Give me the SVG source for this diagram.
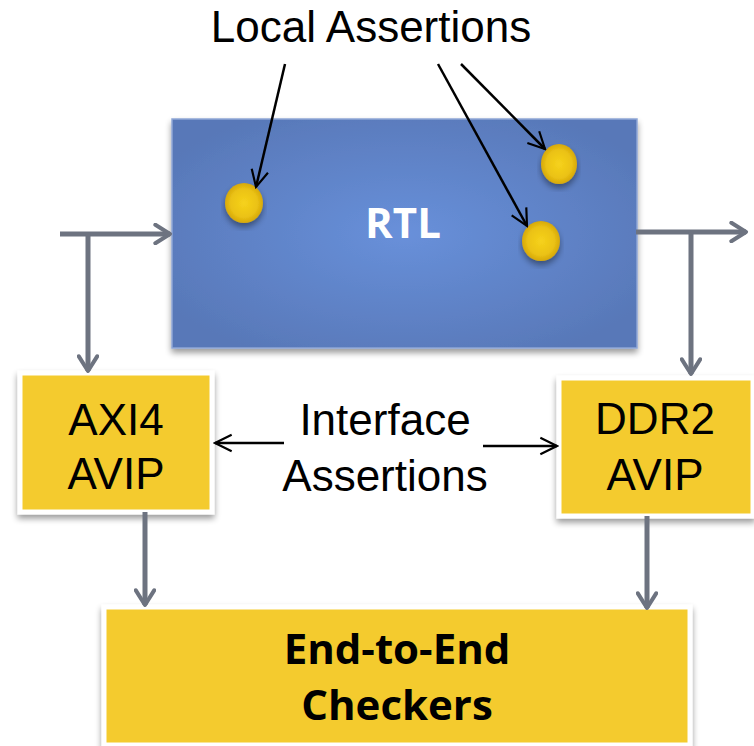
<svg xmlns="http://www.w3.org/2000/svg" width="754" height="746" viewBox="0 0 754 746">
<style>
.yb{fill:#f4cb2d;stroke:#ffffff;stroke-width:5}
.t{font-family:"Liberation Sans",Arial,sans-serif;font-size:44px;fill:#000;text-anchor:middle}
.tb{font-family:"Open Sans","Liberation Sans",sans-serif;font-weight:bold;text-anchor:middle}
.g{stroke:#6d7380;stroke-width:5;fill:none;stroke-linecap:butt}
.k{stroke:#000;stroke-width:2.5;fill:none}
</style>
<defs>
<marker id="ga" viewBox="0 0 12 12" refX="10" refY="6" markerWidth="4.4" markerHeight="4.4" orient="auto" markerUnits="strokeWidth">
<path d="M2,1 L10,6 L2,11" fill="none" stroke="#6d7380" stroke-width="2.2" stroke-linecap="round" stroke-linejoin="round"/>
</marker>
<marker id="ka" viewBox="0 0 12 12" refX="11" refY="6" markerWidth="8" markerHeight="8" orient="auto" markerUnits="strokeWidth">
<path d="M1,1 L11,6 L1,11" fill="none" stroke="#000" stroke-width="1.3"/>
</marker>
<radialGradient id="rtl" cx="0.5" cy="0.5" r="0.6">
<stop offset="0" stop-color="#6890da"/>
<stop offset="1" stop-color="#5878b8"/>
</radialGradient>
<radialGradient id="dot" cx="0.5" cy="0.5" r="0.5">
<stop offset="0" stop-color="#f6d21c"/>
<stop offset="0.7" stop-color="#ebc214"/>
<stop offset="1" stop-color="#d6a80a"/>
</radialGradient>
<filter id="sh" x="-10%" y="-10%" width="120%" height="130%">
<feGaussianBlur in="SourceAlpha" stdDeviation="3"/>
<feOffset dx="0" dy="4" result="b"/>
<feComponentTransfer><feFuncA type="linear" slope="0.4"/></feComponentTransfer>
<feMerge><feMergeNode/><feMergeNode in="SourceGraphic"/></feMerge>
</filter>
</defs>

<g id="rtl-node">
<rect x="172" y="119" width="465" height="229" fill="url(#rtl)" stroke="#8ea6d6" stroke-width="1.5" filter="url(#sh)"/>
<text class="tb" x="403" y="238" font-size="42" fill="#ffffff">RTL</text>
</g>

<g id="dots">
<ellipse cx="244" cy="203" rx="19" ry="20" fill="url(#dot)" filter="url(#sh)"/>
<ellipse cx="559" cy="164" rx="18" ry="20" fill="url(#dot)" filter="url(#sh)"/>
<ellipse cx="541" cy="241" rx="19" ry="20" fill="url(#dot)" filter="url(#sh)"/>
</g>

<g id="local-label">
<text class="t" x="371" y="42">Local Assertions</text>
</g>

<g id="axi4">
<rect class="yb" x="20" y="373" width="192" height="139" filter="url(#sh)"/>
<text class="t" x="116" y="435">AXI4</text>
<text class="t" x="116" y="489">AVIP</text>
</g>

<g id="ddr2">
<rect class="yb" x="559" y="378" width="194" height="138" filter="url(#sh)"/>
<text class="t" x="655" y="434">DDR2</text>
<text class="t" x="655" y="490">AVIP</text>
</g>

<g id="iface-label">
<text class="t" x="385" y="435">Interface</text>
<text class="t" x="385" y="491">Assertions</text>
</g>

<g id="checkers">
<rect class="yb" x="104" y="607" width="586" height="138" filter="url(#sh)"/>
<text class="tb" x="397" y="664" font-size="42">End-to-End</text>
<text class="tb" x="397" y="720" font-size="42">Checkers</text>
</g>

<g id="connectors">
<line class="g" x1="60" y1="234" x2="170" y2="234" marker-end="url(#ga)"/>
<line class="g" x1="88" y1="234" x2="88" y2="371" marker-end="url(#ga)"/>
<line class="g" x1="636" y1="232" x2="746" y2="232" marker-end="url(#ga)"/>
<line class="g" x1="691" y1="232" x2="691" y2="374" marker-end="url(#ga)"/>
<line class="g" x1="145" y1="512" x2="145" y2="605" marker-end="url(#ga)"/>
<line class="g" x1="647" y1="516" x2="647" y2="608" marker-end="url(#ga)"/>
<line class="k" x1="285" y1="64" x2="256" y2="187" marker-end="url(#ka)"/>
<line class="k" x1="438" y1="64" x2="527" y2="226" marker-end="url(#ka)"/>
<line class="k" x1="461" y1="64" x2="545" y2="149" marker-end="url(#ka)"/>
<line class="k" x1="284" y1="443" x2="215" y2="443" marker-end="url(#ka)"/>
<line class="k" x1="483" y1="446" x2="557" y2="446" marker-end="url(#ka)"/>
</g>
</svg>
